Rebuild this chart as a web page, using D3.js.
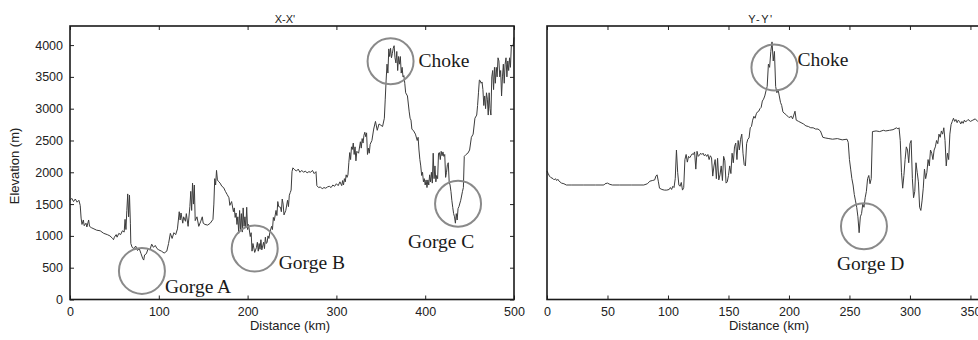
<!DOCTYPE html>
<html>
<head>
<meta charset="utf-8">
<script src="https://cdn.jsdelivr.net/npm/d3@7/dist/d3.min.js"></script>
<style>
  html, body { margin: 0; padding: 0; background: #fff; }
  svg { display: block; }
</style>
</head>
<body>
<svg id="chart" width="978" height="340"></svg>
<script>
// ---- Profile X-X' : distance (km) and elevation (m) ----
const xxDistance = [0,2,4,6,8,10,11.5,12.5,13.5,15,16,18,19,21,22,24,27,30,34,38,42,45,48,49,50,52,53,55,57,59,61,62,63,64,65,66,67,68,68.5,70,72,74,76,78,80,82,83,84,86,88,90,92,94,96,98,100,103,106,109,111,113,115,117,119,121,123,124,125,127,128,130,131,133,135,136,137,138,139,140,141,143,145,147,149,150,152,155,158,161,162,163,164,165,166,167,169,171,173,175,177,179,180,182,184,185,186,187,188,189,190,191,192,193,194,195,196,197,198,199,200,201,203,204,205,206,208,210,211,212,213,214,215,216,218,219,220,221,222,223,224,225,227,228,229,230,232,233,234,235,237,238,239,240,241,243,245,246,247,248,249,250,251,253,255,257,259,261,263,265,267,269,271,273,275,277,278,280,282,284,286,288,290,292,294,296,298,300,302,304,306,307,308,309,310,311,312,313,314,315,316,317,318,319,320,321,322,323,325,327,328,329,330,331,332,333,334,335,336,337,338,340,342,344,346,348,350,352,354,355,356,357,358,359,360,361,362,363,364,365,366,367,368,369,370,371,372,373,374,375,376,377,378,380,382,383,384,385,387,389,391,392,393,394,395,396,397,398,399,400,401,402,403,404,405,406,407,408,409,410,411,412,413,414,415,416,417,418,419,420,421,422,423,424,425,426,427,428,429,430,431,432,433,434,435,436,437,438,440,442,443,444,446,448,450,452,454,456,458,459,460,461,462,463,464,465,466,467,468,469,470,471,472,473,474,475,476,477,478,479,480,481,482,483,484,485,486,487,488,489,490,491,492,493,494,495,496,497,498,499,500];
const xxElevation = [1560,1590,1540,1580,1530,1560,1480,1280,1180,1250,1160,1200,1140,1250,1150,1130,1110,1090,1080,1040,1020,1000,960,940,980,1020,980,1040,1020,1080,1060,1260,1100,1400,1660,1300,1640,1200,880,820,800,840,770,800,720,640,620,700,720,800,780,870,820,850,800,780,760,730,760,880,1040,960,1050,1020,1110,1380,1250,1360,1200,1300,1230,1350,1150,1460,1700,1400,1830,1500,1800,1240,1300,1150,1220,1300,1200,1180,1170,1200,1260,1500,1900,1800,2030,1880,1860,1830,1780,1760,1700,1650,1600,1480,1540,1380,1440,1290,1360,1180,1300,1040,1400,1100,1350,1060,1440,1150,1300,1130,1450,1100,1180,990,1050,760,880,740,820,900,760,880,790,940,780,900,800,980,880,900,1000,960,1050,1150,1100,1290,1240,1400,1320,1540,1460,1450,1380,1580,1500,1330,1400,1560,1460,1640,1680,1720,2010,2070,2040,2020,2050,2000,2030,2000,2020,1990,2010,2000,2030,1980,2010,1790,1760,1770,1740,1760,1750,1770,1780,1760,1800,1780,1820,1790,1850,1790,1870,1800,1900,1850,1960,1920,1960,2150,2310,2200,2400,2360,2460,2280,2400,2180,2330,2300,2480,2380,2530,2460,2580,2630,2560,2620,2280,2380,2300,2440,2500,2680,2800,2660,2760,2740,2720,2850,3150,3450,3700,3560,3940,3820,3950,3800,3870,3950,3990,3800,3720,3900,3600,3820,3700,3820,3560,3650,3500,3520,3400,3250,3200,2950,2850,2820,2680,2650,2600,2500,2550,2350,2200,2100,1950,2000,1850,1900,1800,1880,1760,1880,1800,1960,1850,2000,1830,2300,1900,2100,1850,1950,1900,2300,2310,2200,2330,2260,2320,2250,2280,1920,2000,2120,2150,1850,1800,1700,1560,1450,1350,1300,1200,1350,1250,1430,1460,1560,1700,1760,2250,2280,2300,2350,2550,2600,2850,2900,3050,3250,3450,3440,3400,3420,3300,3050,3200,3000,3250,3150,2900,3250,3000,2900,3500,3600,3300,3650,3400,3650,3500,3800,3750,3500,3600,3200,3500,3700,3400,3700,3800,3500,3750,3600,3800,3650,3990,4000,3980,4120];

// ---- Profile Y-Y' : distance (km) and elevation (m) ----
const yyDistance = [0,1,2,3,5,6,7,8,9,10,12,14,16,20,30,40,47,48,50,52,54,60,70,80,83,85,87,89,90,91,92,93,95,97,99,101,102,103,104,105,106,107,108,109,110,111,112,113,114,115,116,117,118,119,120,121,122,123,124,125,126,127,128,129,130,131,132,133,134,135,136,137,138,139,140,141,142,143,144,145,146,147,148,149,150,151,152,153,154,155,156,157,158,159,160,161,162,163,164,165,166,167,168,169,170,171,172,173,174,175,176,177,178,179,180,181,182,183,184,185,186,187,188,189,190,191,192,193,194,195,196,198,200,202,203,204,205,206,208,210,212,214,216,218,220,222,224,226,228,230,233,236,240,244,248,249,250,251,252,253,254,255,256,257,258,259,260,261,262,263,264,265,266,267,268,269,272,275,278,280,283,286,289,290,291,292,293,294,295,296,297,298,299,300,301,302,303,304,305,306,307,308,309,310,311,312,313,314,315,316,317,318,319,320,321,322,323,324,325,326,327,328,329,330,331,332,333,334,335,336,337,338,339,340,341,342,343,344,345,346,348,350,352,354,356,358,360,362,364,366];
const yyElevation = [2020,1980,1940,1920,1900,1880,1900,1870,1890,1860,1830,1820,1800,1800,1800,1800,1800,1820,1830,1810,1800,1800,1800,1800,1820,1860,1870,1880,1940,1960,1860,1750,1730,1720,1720,1730,1760,1730,1780,1760,1900,2350,2000,1800,1780,1840,1720,1760,2200,2280,2160,2250,2230,2260,2290,2280,2320,2050,2330,2250,2270,2300,2280,2300,2260,2280,2250,2280,2200,2260,2230,1940,2100,2200,1900,2220,1880,1960,2100,1870,2250,2180,1830,1850,1950,2100,1980,2300,2150,2400,2460,2200,2500,2350,2520,2600,2300,2120,2100,2450,2520,2540,2700,2720,2820,2880,2850,2920,2950,2960,3000,3020,3120,3150,3200,3280,3350,3700,3650,3900,4050,3750,3900,3350,3250,3300,3200,3100,3050,2950,2930,2900,2860,2880,2840,2900,2960,2820,2800,2780,2760,2730,2720,2700,2700,2680,2680,2650,2550,2540,2530,2520,2530,2510,2520,2470,2200,2050,1900,1800,1650,1550,1450,1300,1050,1300,1350,1500,1450,1600,1700,1900,1950,1820,1900,2640,2650,2640,2660,2650,2660,2670,2700,2680,2700,2500,2000,1750,1950,2200,2400,2350,2150,2450,2500,1900,1600,1700,2150,2000,1850,1450,1400,1550,1750,2050,1900,2000,2200,2100,2350,2300,2200,2350,2400,2500,2450,2600,2550,2650,2600,2700,2500,2100,2300,2200,2600,2750,2800,2850,2800,2830,2780,2820,2800,2760,2800,2770,2820,2790,2830,2800,2820,2840,2800,2830,2810,2840,2800,2820];

// ---- Axis ticks ----
const elevationTicks = [0,500,1000,1500,2000,2500,3000,3500,4000];
const xxTicks = [0,100,200,300,400,500];
const yyTicks = [0,50,100,150,200,250,300,350];

// ---- Annotated features (distance km, elevation m) ----
const xxNotes = [
  {name: "Gorge A", km: 81,  m: 450,  dx: 23,  dy: 22},
  {name: "Gorge B", km: 208, m: 800,  dx: 24,  dy: 20},
  {name: "Choke",   km: 361, m: 3745, dx: 28,  dy: 6},
  {name: "Gorge C", km: 437, m: 1505, dx: -50, dy: 44}
];
const yyNotes = [
  {name: "Choke",   km: 188, m: 3648, dx: 23,  dy: -1},
  {name: "Gorge D", km: 262, m: 1151, dx: -27, dy: 44}
];

const svg = d3.select("#chart");
svg.append("rect").attr("width", 978).attr("height", 340).attr("fill", "#fff");

const plotTop = 26, plotBottom = 299.5;
const y = d3.scaleLinear().domain([0, 4300]).range([plotBottom, plotTop]);

function panel(opts) {
  const x = d3.scaleLinear().domain(opts.domain).range([opts.x0, opts.x1]);
  const g = svg.append("g");
  const font = "'Liberation Sans', Arial, sans-serif";

  // profile line
  const pts = opts.dist.map((d, i) => [d, opts.elev[i]]);
  g.append("path")
    .datum(pts)
    .attr("fill", "none")
    .attr("stroke", "#3c3c3c")
    .attr("stroke-width", 1)
    .attr("d", d3.line().x(d => x(d[0])).y(d => y(d[1])));

  // axes with inward ticks
  const xb = g.append("g").attr("transform", `translate(0,${plotBottom})`)
    .call(d3.axisBottom(x).tickValues(opts.xticks).tickSize(-4).tickPadding(8).tickFormat(d3.format("d")));
  const xt = g.append("g").attr("transform", `translate(0,${plotTop})`)
    .call(d3.axisTop(x).tickValues(opts.xticks).tickSize(-4).tickFormat(""));
  const axes = [xb, xt];
  if (opts.yLabels) {
    axes.push(g.append("g").attr("transform", `translate(${opts.x0},0)`)
      .call(d3.axisLeft(y).tickValues(elevationTicks).tickSize(-4).tickPadding(7).tickFormat(d3.format("d"))));
    axes.push(g.append("g").attr("transform", `translate(${opts.x1},0)`)
      .call(d3.axisRight(y).tickValues(elevationTicks).tickSize(-4).tickFormat("")));
  }
  axes.forEach(a => {
    a.select(".domain").remove();
    a.selectAll(".tick line").attr("stroke", "#222").attr("stroke-width", 1);
    a.selectAll(".tick text").attr("font-family", font).attr("font-size", 12.5).attr("fill", "#222");
  });

  // frame
  g.append("rect")
    .attr("x", opts.x0).attr("y", plotTop)
    .attr("width", opts.x1 - opts.x0).attr("height", plotBottom - plotTop)
    .attr("fill", "none").attr("stroke", "#1a1a1a").attr("stroke-width", 1.6);

  // title and x label
  g.append("text").attr("x", opts.titleX).attr("y", 23)
    .attr("text-anchor", "middle").attr("font-family", font).attr("font-size", 11)
    .attr("letter-spacing", opts.titleSpacing).attr("fill", "#222").text(opts.title);
  g.append("text").attr("x", opts.labelX).attr("y", 330)
    .attr("text-anchor", "middle").attr("font-family", font).attr("font-size", 13)
    .attr("fill", "#222").text("Distance (km)");

  // annotation circles and labels
  opts.notes.forEach(n => {
    const cx = x(n.km), cy = y(n.m);
    g.append("circle").attr("cx", cx).attr("cy", cy).attr("r", 23)
      .attr("fill", "none").attr("stroke", "#8a8a8a").attr("stroke-width", 2);
    g.append("text").attr("x", cx + n.dx).attr("y", cy + n.dy)
      .attr("font-family", "'Liberation Serif', 'Times New Roman', serif")
      .attr("font-size", 19.5).attr("fill", "#1a1a1a").text(n.name);
  });
}

panel({domain: [0, 500], x0: 70, x1: 514, dist: xxDistance, elev: xxElevation,
       xticks: xxTicks, yLabels: true, notes: xxNotes,
       title: "X-X'", titleX: 285, titleSpacing: 0, labelX: 290});
panel({domain: [0, 367], x0: 547, x1: 991, dist: yyDistance, elev: yyElevation,
       xticks: yyTicks, yLabels: false, notes: yyNotes,
       title: "Y-Y'", titleX: 761, titleSpacing: 1.5, labelX: 769});

// y axis label
svg.append("text")
  .attr("transform", "translate(19,166) rotate(-90)")
  .attr("text-anchor", "middle")
  .attr("font-family", "'Liberation Sans', Arial, sans-serif")
  .attr("font-size", 13).attr("fill", "#222")
  .text("Elevation (m)");
</script>
</body>
</html>
